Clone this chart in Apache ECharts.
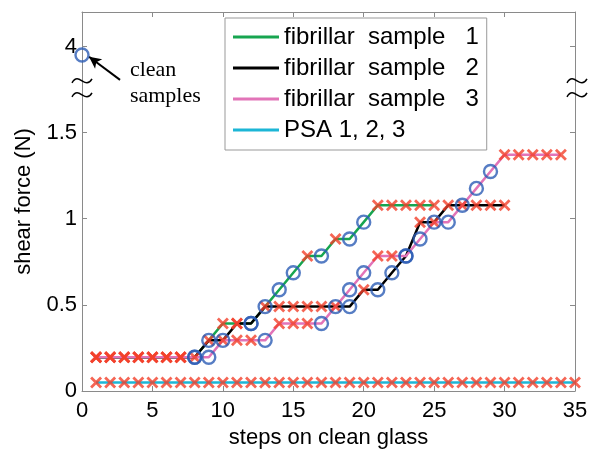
<!DOCTYPE html>
<html>
<head>
<meta charset="utf-8">
<script src="https://cdn.jsdelivr.net/npm/echarts@6/dist/echarts.min.js"></script>
<style>html,body{margin:0;padding:0;background:#fff;}#c{width:591px;height:449px;}</style>
</head>
<body>
<div id="c"></div>
<script>
// ---- data (shear force in N, one value per step starting at step 1) ----
const seriesNames = ['fibrillar  sample   1', 'fibrillar  sample   2', 'fibrillar  sample   3', 'PSA 1, 2, 3'];
const sample1 = [0.196,0.196,0.196,0.196,0.196,0.196,0.196,0.196,0.294,0.392,0.392,0.392,0.49,0.588,0.686,0.784,0.784,0.882,0.882,0.98,1.078,1.078,1.078,1.078,1.078];
const sample2 = [0.196,0.196,0.196,0.196,0.196,0.196,0.196,0.196,0.294,0.294,0.392,0.392,0.49,0.49,0.49,0.49,0.49,0.49,0.49,0.588,0.588,0.686,0.784,0.98,0.98,1.078,1.078,1.078,1.078,1.078];
const sample3 = [0.196,0.196,0.196,0.196,0.196,0.196,0.196,0.196,0.196,0.294,0.294,0.294,0.294,0.392,0.392,0.392,0.392,0.49,0.588,0.686,0.784,0.784,0.784,0.882,0.98,0.98,1.078,1.176,1.274,1.372,1.372,1.372,1.372,1.372];
const psa = [0.049,0.049,0.049,0.049,0.049,0.049,0.049,0.049,0.049,0.049,0.049,0.049,0.049,0.049,0.049,0.049,0.049,0.049,0.049,0.049,0.049,0.049,0.049,0.049,0.049,0.049,0.049,0.049,0.049,0.049,0.049,0.049,0.049,0.049,0.049];
// steps marked with a circle (others marked with a cross)
const held1 = [8,9,12,13,14,15,17,19,20];
const held2 = [8,10,12,19,21,22,23,25];
const held3 = [9,13,17,18,19,20,23,24,26,27,28,29];
const held4 = [];
// clean samples point (above the axis break)
const cleanStep = 0;
const cleanForce = 3.95;
const xTicks = [0,5,10,15,20,25,30,35];
const yTickLabels = {0:'0', 0.5:'0.5', 1:'1', 1.5:'1.5', 2:'4'};

// ---- axis break mapping: values above the break drawn at 2 + (v - 4) ----
function toAxis(v){ return v > 2 ? 2 + (v - 4) : v; }

const lineColors = ['#17a550', '#000000', '#e274b8', '#1cb6d6'];
const crossColor = '#f2402a';
const circleColor = '#2c5db5';
const font = 'Liberation Sans, Arial, sans-serif';

const allSeriesData = [sample1, sample2, sample3, psa];
const allHeld = [held1, held2, held3, held4];

const series = [];
allSeriesData.forEach((arr, i) => {
  series.push({
    name: seriesNames[i], type: 'line', data: arr.map((v, k) => [k + 1, v]),
    symbol: 'none', lineStyle: {color: lineColors[i], width: 2.5}, itemStyle: {color: lineColors[i]},
    z: 2 + i * 0.1, animation: false
  });
});
allSeriesData.forEach((arr, i) => {
  const held = allHeld[i];
  series.push({
    type: 'scatter', data: arr.map((v, k) => [k + 1, v]).filter(p => held.indexOf(p[0]) < 0),
    symbol: 'path://M0,0L10,10M10,0L0,10', symbolSize: 10, clip: false,
    itemStyle: {color: 'rgba(0,0,0,0)', borderColor: crossColor, borderWidth: 2.8},
    z: 5, animation: false, silent: true
  });
  series.push({
    type: 'scatter', data: arr.map((v, k) => [k + 1, v]).filter(p => held.indexOf(p[0]) >= 0),
    symbol: 'circle', symbolSize: 13, clip: false,
    itemStyle: {color: 'rgba(0,0,0,0)', borderColor: circleColor, borderWidth: 2.4},
    z: 6, animation: false, silent: true
  });
});
series.push({
  type: 'scatter', data: [[cleanStep, toAxis(cleanForce)]],
  symbol: 'circle', symbolSize: 13, clip: false,
  itemStyle: {color: 'rgba(0,0,0,0)', borderColor: circleColor, borderWidth: 2.4},
  z: 6, animation: false, silent: true,
  markLine: {
    silent: true, animation: false, symbolSize: [9, 12],
    lineStyle: {color: '#000', width: 2, type: 'solid'}, label: {show: false},
    data: [[{coord: [2.7, 1.806], symbol: 'none'}, {coord: [0.5, 1.94], symbol: 'arrow'}]]
  }
});

const axisLine = {show: true, onZero: false, lineStyle: {color: '#8a8a8a', width: 1}};
const tickStyle = {show: true, inside: true, length: 5, lineStyle: {color: '#8a8a8a'}};

const option = {
  backgroundColor: '#fff',
  animation: false,
  grid: {left: 82, right: 16, top: 12, bottom: 58, containLabel: false, outerBoundsMode: 'none'},
  legend: {
    orient: 'vertical', left: 225, top: 18, icon: 'rect', itemWidth: 46, itemHeight: 3, itemGap: 7,
    padding: [7, 8, 8, 8], borderColor: '#999', borderWidth: 1, backgroundColor: '#fff',
    textStyle: {fontSize: 24, fontFamily: font, color: '#000', lineHeight: 24},
    data: seriesNames, selectedMode: false, z: 10
  },
  xAxis: [{
    type: 'value', min: 0, max: 35, interval: 5,
    name: 'steps on clean glass', nameLocation: 'middle', nameGap: 30,
    nameTextStyle: {fontSize: 22, fontFamily: font, color: '#000'},
    axisLine: axisLine, axisTick: tickStyle, splitLine: {show: false},
    axisLabel: {fontSize: 22, fontFamily: font, color: '#000', margin: 9,
      formatter: v => xTicks.indexOf(v) >= 0 ? String(v) : ''}
  }, {
    type: 'value', min: 0, max: 35, interval: 5, position: 'top',
    axisLine: axisLine, axisTick: tickStyle, splitLine: {show: false}, axisLabel: {show: false}
  }],
  yAxis: [{
    type: 'value', min: 0, max: 2.2, interval: 0.5,
    name: 'shear force (N)', nameLocation: 'middle', nameGap: 47,
    nameTextStyle: {fontSize: 22, fontFamily: font, color: '#000'},
    axisLine: axisLine, axisTick: tickStyle, splitLine: {show: false},
    axisLabel: {fontSize: 22, fontFamily: font, color: '#000', margin: 5,
      formatter: v => (yTickLabels[v] !== undefined ? yTickLabels[v] : '')}
  }, {
    type: 'value', min: 0, max: 2.2, interval: 0.5, position: 'right',
    axisLine: axisLine, axisTick: tickStyle, splitLine: {show: false}, axisLabel: {show: false}
  }],
  series: series
};

const chart = echarts.init(document.getElementById('c'), null, {renderer: 'canvas'});
chart.setOption(option);

// axis-break marks and annotation text, positioned through the axis scales
const breakAt = 1.76;
function tilde(cx, cy){
  return {type: 'bezierCurve', silent: true, z: 20,
    shape: {x1: cx - 10, y1: cy + 2, x2: cx + 10, y2: cy - 2, cpx1: cx - 3, cpy1: cy - 10, cpx2: cx + 3, cpy2: cy + 10},
    style: {stroke: '#000', lineWidth: 1.5, fill: null}};
}
const pL = chart.convertToPixel({gridIndex: 0}, [0, breakAt]);
const pR = chart.convertToPixel({gridIndex: 0}, [35, breakAt]);
const t1 = chart.convertToPixel({gridIndex: 0}, [3.4, 1.86]);
const t2 = chart.convertToPixel({gridIndex: 0}, [3.4, 1.71]);
chart.setOption({graphic: [
  tilde(pL[0], pL[1] - 7), tilde(pL[0], pL[1] + 7),
  tilde(pR[0] + 2, pR[1] - 7), tilde(pR[0] + 2, pR[1] + 7),
  {type: 'text', silent: true, x: t1[0], y: t1[1], style: {text: 'clean', font: '22px "Liberation Serif", "Times New Roman", serif', fill: '#000', verticalAlign: 'middle', align: 'left'}},
  {type: 'text', silent: true, x: t2[0], y: t2[1], style: {text: 'samples', font: '22px "Liberation Serif", "Times New Roman", serif', fill: '#000', verticalAlign: 'middle', align: 'left'}}
]});
</script>
</body>
</html>
